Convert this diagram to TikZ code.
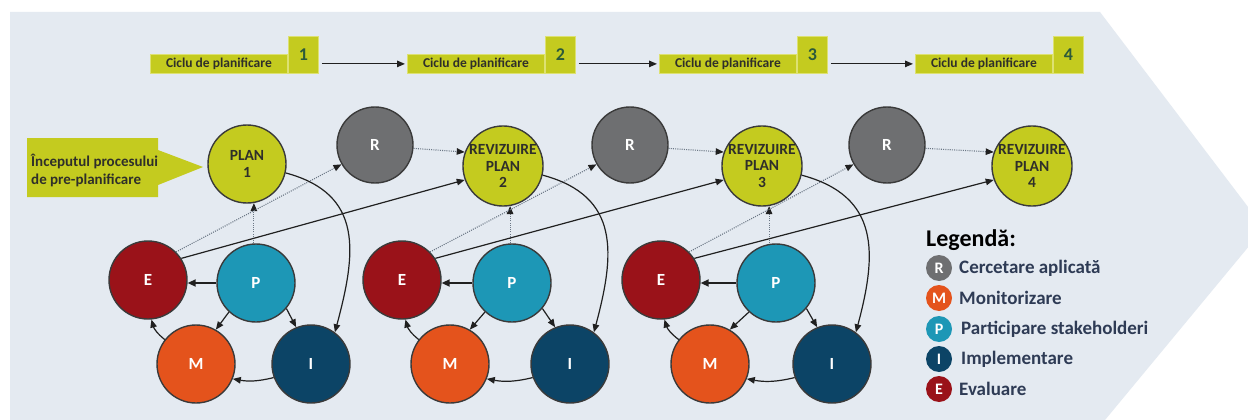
\documentclass[tikz,border=0pt]{standalone}
\usepackage{fontspec}
\setmainfont{Carlito}
\usetikzlibrary{arrows.meta}
\definecolor{panel}{HTML}{E4EAF1}
\definecolor{ygreen}{HTML}{C4CB1F}
\definecolor{yborder}{HTML}{DDE172}
\definecolor{numtext}{HTML}{2C5A3A}
\definecolor{darktext}{HTML}{2F2F2A}
\definecolor{rgray}{HTML}{6E6F71}
\definecolor{ered}{HTML}{9A1219}
\definecolor{pteal}{HTML}{1D97B6}
\definecolor{morange}{HTML}{E4531C}
\definecolor{inavy}{HTML}{0C4466}
\definecolor{circborder}{HTML}{3A3A3A}
\definecolor{arrowc}{HTML}{202020}
\definecolor{dotc}{HTML}{6B7785}
\definecolor{legtext}{HTML}{2E3B55}
\tikzset{
  bigc/.style={circle, draw=circborder, line width=1.4pt, minimum size=78pt, inner sep=0pt,
    font=\bfseries\fontsize{17}{19}\selectfont, text=white},
  rc/.style={bigc, fill=rgray, minimum size=76pt},
  ec/.style={bigc, fill=ered},
  pc/.style={bigc, fill=pteal},
  mc/.style={bigc, fill=morange},
  ic/.style={bigc, fill=inavy},
  planc/.style={bigc, fill=ygreen, text=darktext, align=center,
    font=\bfseries\fontsize{15.5}{16.5}\selectfont},
  lbl/.style={rectangle, fill=ygreen, draw=yborder, line width=0.8pt, minimum width=137pt,
    minimum height=19pt, inner sep=0pt, anchor=north west, text=darktext,
    font=\bfseries\fontsize{13.5}{15}\selectfont},
  numbox/.style={rectangle, fill=ygreen, draw=yborder, line width=0.8pt, minimum width=30pt,
    minimum height=37pt, inner sep=0pt, anchor=north west, text=numtext,
    font=\bfseries\fontsize{18}{20}\selectfont},
  flow/.style={draw=arrowc, line width=1.2pt, -{Triangle[length=8pt,width=6.5pt]}},
  thickflow/.style={draw=arrowc, line width=2.2pt, -{Triangle[length=8pt,width=7pt]}},
  dotl/.style={draw=dotc, line width=1.1pt, dash pattern=on 1pt off 1.2pt,
    -{Triangle[length=8pt,width=6.5pt,color=arrowc]}},
  legc/.style={circle, minimum size=26pt, inner sep=0pt, text=white,
    font=\bfseries\fontsize{16}{18}\selectfont},
  legt/.style={anchor=west, text=legtext, inner sep=0pt, font=\bfseries\fontsize{19}{21}\selectfont},
}
\begin{document}
\begin{tikzpicture}[x=1pt,y=1pt]
\useasboundingbox (0,0) rectangle (1248,-420);
\clip (0,0) rectangle (1248,-420);
\fill[white] (0,0) rectangle (1248,-420);
\fill[panel] (10,-12) -- (1100,-12) -- (1264,-228) -- (1105,-420) -- (10,-420) -- cycle;

% top row of cycles
\node[lbl] (L1) at (150,-54) {Ciclu de planificare};
\node[numbox] (N1) at (288,-36) {1};
\node[lbl] (L2) at (407,-54) {Ciclu de planificare};
\node[numbox] (N2) at (545,-36) {2};
\node[lbl] (L3) at (659,-54) {Ciclu de planificare};
\node[numbox] (N3) at (797,-36) {3};
\node[lbl] (L4) at (915,-54) {Ciclu de planificare};
\node[numbox] (N4) at (1053,-36) {4};
\draw[flow, shorten <=3pt, shorten >=2pt] (N1.east |- L1.east) -- (L2.west);
\draw[flow, shorten <=3pt, shorten >=2pt] (N2.east |- L2.east) -- (L3.west);
\draw[flow, shorten <=3pt, shorten >=2pt] (N3.east |- L3.east) -- (L4.west);

% start callout
\fill[ygreen] (27,-138) -- (158,-138) -- (158,-150) -- (203,-167) -- (158,-185) -- (158,-197) -- (27,-197) -- cycle;
\node[anchor=west, align=left, inner sep=0pt, text=darktext,
  font=\bfseries\fontsize{15}{18}\selectfont] (start) at (31,-171) {Începutul procesului\\de pre-planificare};

% circles
\node[planc] (PL1) at (247,-164) {PLAN\\1};
\node[rc] (R1) at (375,-145) {R};
\node[ec] (E1) at (148,-280) {E};
\node[pc] (P1) at (256,-283) {P};
\node[mc] (M1) at (196,-364) {M};
\node[ic] (I1) at (311,-364) {I};

\node[planc] (PL2) at (503,-166) {REVIZUIRE\\PLAN\\2};
\node[rc] (R2) at (630,-145) {R};
\node[ec] (E2) at (402,-280) {E};
\node[pc] (P2) at (512,-283) {P};
\node[mc] (M2) at (450,-364) {M};
\node[ic] (I2) at (570,-364) {I};

\node[planc] (PL3) at (762,-166) {REVIZUIRE\\PLAN\\3};
\node[rc] (R3) at (887,-145) {R};
\node[ec] (E3) at (661,-280) {E};
\node[pc] (P3) at (776,-283) {P};
\node[mc] (M3) at (710,-364) {M};
\node[ic] (I3) at (832,-364) {I};

\node[planc] (PL4) at (1032,-166) {REVIZUIRE\\PLAN\\4};

% connectors, cycle 1
\draw[dotl] (PL1.-80 |- P1.north) -- (PL1.-80);
\draw[dotl] (E1.45) -- (R1.210);
\draw[flow] (E1.33) -- (PL2.200);
\draw[dotl] (R1.-5) -- (PL2.160);
\draw[flow] (PL1.-13) to[out=-15, in=75, looseness=1.25] (I1.53);
\draw[thickflow] (P1.west) -- (E1.east |- P1.west);
\draw[flow] (P1.-133) -- (M1.60);
\draw[flow] (P1.-40) -- (I1.112);
\draw[flow] (I1.200) to[bend left=12] (M1.-22);
\draw[flow] (M1.142) to[bend left=18] (E1.-85);

% connectors, cycle 2
\draw[dotl] (PL2.-80 |- P2.north) -- (PL2.-80);
\draw[dotl] (E2.45) -- (R2.210);
\draw[flow] (E2.33) -- (PL3.200);
\draw[dotl] (R2.-5) -- (PL3.160);
\draw[flow] (PL2.-13) to[out=-15, in=75, looseness=1.25] (I2.53);
\draw[thickflow] (P2.west) -- (E2.east |- P2.west);
\draw[flow] (P2.-133) -- (M2.60);
\draw[flow] (P2.-40) -- (I2.112);
\draw[flow] (I2.200) to[bend left=12] (M2.-22);
\draw[flow] (M2.142) to[bend left=18] (E2.-85);

% connectors, cycle 3
\draw[dotl] (PL3.-80 |- P3.north) -- (PL3.-80);
\draw[dotl] (E3.45) -- (R3.210);
\draw[flow] (E3.33) -- (PL4.200);
\draw[dotl] (R3.-5) -- (PL4.160);
\draw[flow] (PL3.-13) to[out=-15, in=75, looseness=1.25] (I3.53);
\draw[thickflow] (P3.west) -- (E3.east |- P3.west);
\draw[flow] (P3.-133) -- (M3.60);
\draw[flow] (P3.-40) -- (I3.112);
\draw[flow] (I3.200) to[bend left=12] (M3.-22);
\draw[flow] (M3.142) to[bend left=18] (E3.-85);

% legend
\node[anchor=west, inner sep=0pt, text=black, font=\bfseries\fontsize{24}{26}\selectfont] (legtitle) at (926,-240) {Legendă:};
\node[legc, fill=rgray] (lR) at (939,-268) {R};
\node[legt] (tR) at (959,-268) {Cercetare aplicată};
\node[legc, fill=morange] (lM) at (939,-298) {M};
\node[legt] (tM) at (959,-298) {Monitorizare};
\node[legc, fill=pteal] (lP) at (939,-329) {P};
\node[legt] (tP) at (961,-329) {Participare stakeholderi};
\node[legc, fill=inavy] (lI) at (939,-359) {I};
\node[legt] (tI) at (961,-359) {Implementare};
\node[legc, fill=ered] (lE) at (939,-389) {E};
\node[legt] (tE) at (959,-389) {Evaluare};
\end{tikzpicture}
\end{document}
